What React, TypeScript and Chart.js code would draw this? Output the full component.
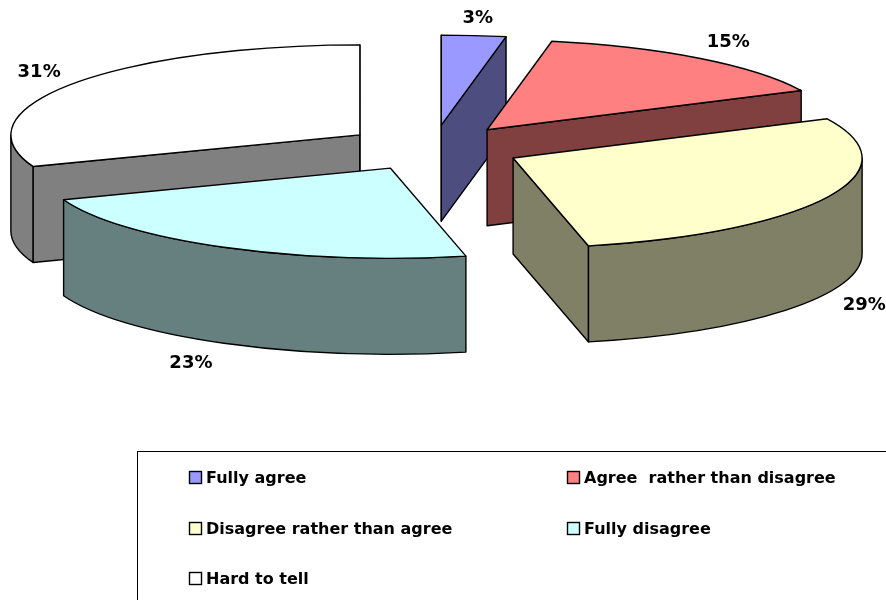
import React, { useEffect, useRef } from "react";
import { Chart, registerables } from "chart.js";

Chart.register(...registerables);

const categories = ["Fully agree", "Agree  rather than disagree", "Disagree rather than agree", "Fully disagree", "Hard to tell"];
const percentages = [3, 15, 29, 23, 31];
const topColors = ["#9999FF", "#FF8080", "#FFFFCC", "#CCFFFF", "#FFFFFF"];
const sideColors = ["#4D4D80", "#804040", "#808066", "#668080", "#808080"];

const FONT = "bold 18px 'DejaVu Sans'";
const LEGEND_FONT = "bold 16px 'DejaVu Sans'";
const SQUASH = 0.258;
const CENTER_Y = 148;
const DEPTH = 96;
const PAINT_ORDER = [4, 0, 1, 3, 2];
const LABEL_NUDGE = [[4, -17], [29, -16], [37, 12], [-33, 20], [-34, -11]];
const LEGEND_CELLS = [[189, 478], [567, 478], [189, 529], [567, 529], [189, 579]];

const pie3dPlugin = {
  id: "pie3d",
  beforeDatasetsDraw(chart: any) {
    const { ctx } = chart;
    const meta = chart.getDatasetMeta(0);
    for (const i of PAINT_ORDER) {
      const arc = meta.data[i];
      const { x, startAngle: a1, endAngle: a2, outerRadius: R } = arc.getProps(["x", "startAngle", "endAngle", "outerRadius"], true);
      const mid = (a1 + a2) / 2;
      const off = (arc.options.offset || 0) / 4;
      const ax = x + Math.cos(mid) * off;
      const ay = CENTER_Y + Math.sin(mid) * off * SQUASH;
      const px = (a: number) => ax + R * Math.cos(a);
      const py = (a: number) => ay + R * SQUASH * Math.sin(a);

      ctx.save();
      ctx.lineWidth = 1.4;
      ctx.strokeStyle = "#000";
      ctx.lineJoin = "round";
      ctx.fillStyle = sideColors[i];

      const face = (a: number) => {
        ctx.beginPath();
        ctx.moveTo(ax, ay);
        ctx.lineTo(px(a), py(a));
        ctx.lineTo(px(a), py(a) + DEPTH);
        ctx.lineTo(ax, ay + DEPTH);
        ctx.closePath();
        ctx.fill();
        ctx.stroke();
      };
      if (Math.sin(a1 - Math.PI / 2) > -1e-6) face(a1);
      if (Math.sin(a2 + Math.PI / 2) > -1e-6) face(a2);

      // visible part of the outer rim: the front half of the ellipse
      const lo = Math.max(a1, 0);
      const hi = Math.min(a2, Math.PI);
      if (hi > lo) {
        ctx.beginPath();
        ctx.ellipse(ax, ay, R, R * SQUASH, 0, lo, hi, false);
        ctx.ellipse(ax, ay + DEPTH, R, R * SQUASH, 0, hi, lo, true);
        ctx.closePath();
        ctx.fill();
        ctx.stroke();
      }

      // top face
      ctx.beginPath();
      ctx.moveTo(ax, ay);
      ctx.lineTo(px(a1), py(a1));
      ctx.ellipse(ax, ay, R, R * SQUASH, 0, a1, a2, false);
      ctx.closePath();
      ctx.fillStyle = arc.options.backgroundColor;
      ctx.fill();
      ctx.stroke();
      ctx.restore();
    }
    return false;
  },
  afterDraw(chart: any) {
    const { ctx } = chart;
    const meta = chart.getDatasetMeta(0);
    ctx.save();
    ctx.fillStyle = "#000";
    ctx.font = FONT;
    ctx.textAlign = "center";
    ctx.textBaseline = "middle";
    meta.data.forEach((arc: any, i: number) => {
      const { x, startAngle: a1, endAngle: a2, outerRadius: R } = arc.getProps(["x", "startAngle", "endAngle", "outerRadius"], true);
      const mid = (a1 + a2) / 2;
      const off = (arc.options.offset || 0) / 4;
      const front = Math.sin(mid) > 0 ? DEPTH : 0;
      const lx = x + Math.cos(mid) * (off + R) + LABEL_NUDGE[i][0];
      const ly = CENTER_Y + Math.sin(mid) * (off + R) * SQUASH + front + LABEL_NUDGE[i][1];
      ctx.fillText(`${percentages[i]}%`, lx, ly);
    });

    ctx.lineWidth = 1;
    ctx.strokeStyle = "#000";
    ctx.strokeRect(137.5, 451.5, 900, 300);
    ctx.font = LEGEND_FONT;
    ctx.textAlign = "left";
    categories.forEach((name, i) => {
      const [cx, cy] = LEGEND_CELLS[i];
      ctx.fillStyle = topColors[i];
      ctx.lineWidth = 1.4;
      ctx.fillRect(cx + 0.5, cy - 6.5, 12, 12);
      ctx.strokeRect(cx + 0.5, cy - 6.5, 12, 12);
      ctx.fillStyle = "#000";
      ctx.fillText(name, cx + 17, cy + 1);
    });
    ctx.restore();
  },
};

export default function App() {
  const ref = useRef<HTMLCanvasElement>(null);
  useEffect(() => {
    const chart = new Chart(ref.current as HTMLCanvasElement, {
      type: "pie",
      data: {
        labels: categories,
        datasets: [{ data: percentages, backgroundColor: topColors, borderWidth: 0, offset: 356 }],
      },
      options: {
        animation: false,
        responsive: false,
        radius: 349,
        layout: { padding: { right: 20 } },
        plugins: { legend: { display: false }, tooltip: { enabled: false } },
      },
      plugins: [pie3dPlugin],
    } as any);
    return () => chart.destroy();
  }, []);
  return (
    <div style={{ position: "absolute", left: 0, top: 0, width: 886, height: 600, overflow: "hidden", background: "#fff" }}>
      <canvas ref={ref} width={886} height={600} style={{ display: "block" }} />
    </div>
  );
}
